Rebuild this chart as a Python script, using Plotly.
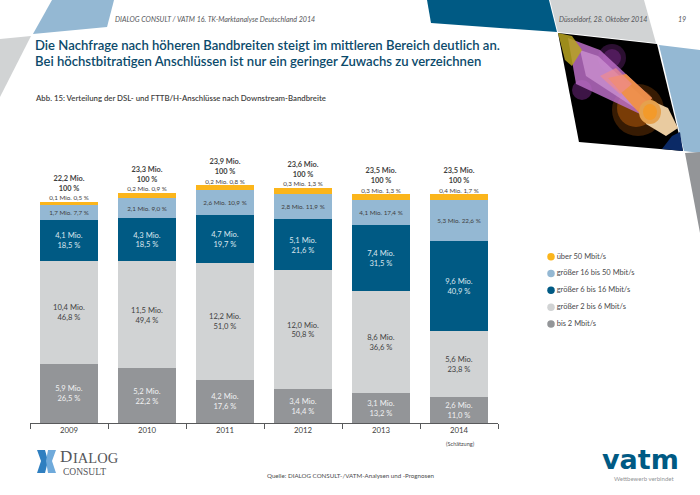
import plotly.graph_objects as go

years = ["2009", "2010", "2011", "2012", "2013", "2014"]

# heights as drawn in the picture (Mio.), they differ a bit from the printed labels
bis2 = [5.94, 5.47, 4.34, 3.44, 3.04, 2.57]
gr2bis6 = [10.3, 10.73, 11.66, 11.83, 10.13, 6.63]
gr6bis16 = [4.06, 4.3, 4.84, 5.13, 6.6, 9.0]
gr16bis50 = [1.54, 2.0, 2.46, 2.5, 2.5, 4.07]
ueber50 = [0.26, 0.5, 0.47, 0.6, 0.6, 0.6]

bis2_text = ["5,9 Mio.<br>26,5 %", "5,2 Mio.<br>22,2 %", "4,2 Mio.<br>17,6 %", "3,4 Mio.<br>14,4 %", "3,1 Mio.<br>13,2 %", "2,6 Mio.<br>11,0 %"]
gr2bis6_text = ["10,4 Mio.<br>46,8 %", "11,5 Mio.<br>49,4 %", "12,2 Mio.<br>51,0 %", "12,0 Mio.<br>50,8 %", "8,6 Mio.<br>36,6 %", "5,6 Mio.<br>23,8 %"]
gr6bis16_text = ["4,1 Mio.<br>18,5 %", "4,3 Mio.<br>18,5 %", "4,7 Mio.<br>19,7 %", "5,1 Mio.<br>21,6 %", "7,4 Mio.<br>31,5 %", "9,6 Mio.<br>40,9 %"]
gr16bis50_text = ["1,7 Mio. 7,7 %", "2,1 Mio. 9,0 %", "2,6 Mio. 10,9 %", "2,8 Mio. 11,9 %", "4,1 Mio. 17,4 %", "5,3 Mio. 22,6 %"]
ueber50_text = ["0,1 Mio. 0,5 %", "0,2 Mio. 0,9 %", "0,2 Mio. 0,8 %", "0,3 Mio. 1,3 %", "0,3 Mio. 1,3 %", "0,4 Mio. 1,7 %"]
totals_text = ["22,2 Mio.", "23,3 Mio.", "23,9 Mio.", "23,6 Mio.", "23,5 Mio.", "23,5 Mio."]

legend_names = ["über 50 Mbit/s", "größer 16 bis 50 Mbit/s", "größer 6 bis 16 Mbit/s", "größer 2 bis 6 Mbit/s", "bis 2 Mbit/s"]
legend_colors = ["#FBB51B", "#94B8D3", "#005A84", "#D1D3D4", "#939598"]

W, H = 700, 495
FONT = "Lato"
GREY_TEXT = "#4A4A4C"
NAVY = "#0B4A6B"


def px(x, y):
    return x / W, 1 - y / H


def poly(points, color, opacity=1):
    parts = []
    for i, (x, y) in enumerate(points):
        a, b = px(x, y)
        parts.append(("M" if i == 0 else "L") + f"{a:.4f},{b:.4f}")
    return dict(type="path", xref="paper", yref="paper", path=" ".join(parts) + " Z",
                fillcolor=color, opacity=opacity, line_width=0, layer="below")


def circle(cx, cy, rx, ry, color, opacity=1):
    x0, y0 = px(cx - rx, cy - ry)
    x1, y1 = px(cx + rx, cy + ry)
    return dict(type="circle", xref="paper", yref="paper", x0=x0, x1=x1, y0=y0, y1=y1,
                fillcolor=color, opacity=opacity, line_width=0, layer="below")


def label(text, x, y, size, color=GREY_TEXT, family=FONT, anchor="left", weight=None):
    a, b = px(x, y)
    return dict(text=text, x=a, y=b, xref="paper", yref="paper", xanchor=anchor, yanchor="middle",
                showarrow=False, align="left", borderpad=0,
                font=dict(size=size, color=color, family=family, weight=weight))


fig = go.Figure()

series = [
    (bis2, bis2_text, "#939598", "#F1F1F2", 7.6, "bis 2 Mbit/s"),
    (gr2bis6, gr2bis6_text, "#D1D3D4", "#3F3F41", 7.6, "größer 2 bis 6 Mbit/s"),
    (gr6bis16, gr6bis16_text, "#005A84", "#DCE6EE", 7.6, "größer 6 bis 16 Mbit/s"),
    (gr16bis50, gr16bis50_text, "#94B8D3", "#3F3F41", 6.3, "größer 16 bis 50 Mbit/s"),
    (ueber50, None, "#FBB51B", "#3F3F41", 6.3, "über 50 Mbit/s"),
]
for values, texts, color, text_color, size, name in series:
    fig.add_trace(go.Bar(x=years, y=values, name=name, marker_color=color, marker_line_width=0,
                         text=texts, textposition="inside" if texts else "none",
                         insidetextanchor="middle", textangle=0, constraintext="none",
                         insidetextfont=dict(size=size, color=text_color, family=FONT),
                         showlegend=False))

# totals and the yellow share sit above each stack
tops = [sum(v) for v in zip(bis2, gr2bis6, gr6bis16, gr16bis50, ueber50)]
top_text = [f"<b>{t}</b><br><b>100 %</b><br>&nbsp;" for t in totals_text]
fig.add_trace(go.Scatter(x=years, y=tops, mode="text", text=ueber50_text, textposition="top center",
                         textfont=dict(size=6.3, color="#3F3F41", family=FONT), showlegend=False))
fig.add_trace(go.Scatter(x=years, y=tops, mode="text", text=top_text, textposition="top center",
                         textfont=dict(size=7.4, color="#3F3F41", family=FONT), showlegend=False))

# legend drawn on its own small axes, row spacing is tighter than the native legend allows
fig.add_trace(go.Scatter(x=[0] * 5, y=legend_names, mode="markers+text", text=legend_names,
                         textposition="middle right", xaxis="x2", yaxis="y2",
                         marker=dict(size=7.5, color=legend_colors),
                         textfont=dict(size=7.5, color=GREY_TEXT, family=FONT), showlegend=False))

shapes = [
    poly([(52, 0), (114, 0), (107, 27), (33, 34)], "#94B8D3"),
    poly([(31, 36), (0, 39), (0, 97)], "#D1D3D4"),
    poly([(427, 0), (549, 0), (557, 32), (431, 23)], "#005A84"),
    poly([(550, 0), (644, 0), (656, 43), (558, 32)], "#D1D3D4"),
    poly([(659, 45), (700, 50), (700, 153), (684, 151)], "#94B8D3"),
    poly([(685, 153), (700, 152), (700, 233)], "#939598"),
    # fibre picture
    poly([(558, 33), (657, 44), (683, 151), (579, 142)], "#000000"),
    circle(612, 58, 14, 14, "#7A2A8C", 0.35),
    circle(612, 58, 9, 9, "#8A2C9B", 0.4),
    circle(582, 90, 10, 10, "#7A2A8C", 0.5),
    circle(638, 110, 26, 26, "#8A4308", 0.4),
    circle(636, 108, 19, 19, "#C9660D", 0.45),
    poly([(568, 38), (600, 50), (652, 98), (640, 114), (576, 84)], "#B86CC4", 0.85),
    poly([(580, 50), (598, 56), (648, 102), (638, 110), (586, 76)], "#D9A0DC", 0.6),
    poly([(608, 78), (626, 74), (652, 98), (640, 114)], "#F2913F", 0.9),
    poly([(600, 76), (616, 68), (632, 84), (620, 94)], "#EE8A90", 0.7),
    poly([(558, 33), (572, 36), (582, 50), (572, 66), (565, 60)], "#B8A520", 0.85),
    poly([(650, 100), (668, 108), (678, 128), (666, 136), (646, 124)], "#E9CBA0"),
    circle(650, 112, 11, 12, "#E5A14E"),
    circle(650, 112, 7, 8, "#F39A2A"),
    poly([(672, 136), (680, 132), (683, 151), (662, 149)], "#0B2A66"),
    # dialog logo
    poly([(37, 450), (45, 450), (48, 461), (45, 473), (37, 473), (41, 461)], "#2F7FC0"),
    poly([(56, 450), (48, 450), (46, 461), (48, 473), (56, 473), (52, 461)], "#6FAADB"),
]

annotations = [
    label("<i>DIALOG CONSULT / VATM 16. TK-Marktanalyse Deutschland 2014</i>", 114, 19, 7.1, "#55565A"),
    label("<i>Düsseldorf, 28. Oktober 2014</i>", 558, 19, 7.1, "#55565A"),
    label("<i>19</i>", 677, 19, 7.1, "#55565A"),
    label("Die Nachfrage nach höheren Bandbreiten steigt im mittleren Bereich deutlich an.", 34, 45, 13.1, NAVY, FONT, weight=600),
    label("Bei höchstbitratigen Anschlüssen ist nur ein geringer Zuwachs zu verzeichnen", 34, 61, 13.1, NAVY, FONT, weight=600),
    label("Abb. 15: Verteilung der DSL- und FTTB/H-Anschlüsse nach Downstream-Bandbreite", 34, 98, 7.8, "#3F3F41", FONT, weight=600),
    label("(Schätzung)", 460, 443, 5.6, GREY_TEXT, anchor="center"),
    label("Quelle: DIALOG CONSULT-/VATM-Analysen und -Prognosen", 266, 475, 6.2, "#4A4A4C"),
    label("D", 59, 456.5, 17, "#55565A", "Liberation Serif"),
    label("IALOG", 72, 457.5, 14.5, "#55565A", "Liberation Serif"),
    label("CONSULT", 62, 472, 9.5, "#55565A", "Liberation Serif"),
    label("vatm", 640, 459, 27, "#005A84", "DejaVu Sans", anchor="center", weight=700),
    label("Wettbewerb verbindet", 644, 478, 6, "#939598", anchor="center"),
]

fig.update_layout(
    width=W, height=H, margin=dict(l=0, r=0, t=0, b=0),
    paper_bgcolor="white", plot_bgcolor="white",
    barmode="stack", bargap=0.25, showlegend=False,
    font=dict(family=FONT),
    shapes=shapes, annotations=annotations,
    xaxis=dict(domain=[30 / W, 498 / W], type="category", range=[-0.5, 5.5], tickson="boundaries",
               ticks="outside", ticklen=5, tickcolor="#58595B", tickwidth=0.8,
               showline=True, linecolor="#58595B", linewidth=1, showgrid=False,
               tickfont=dict(size=7.8, color="#3F3F41", family=FONT)),
    yaxis=dict(domain=[1 - 423 / H, 1 - 140 / H], range=[0, 28.3], visible=False),
    xaxis2=dict(domain=[540 / W, 1], range=[-11, 149], visible=False, anchor="y2"),
    yaxis2=dict(domain=[1 - 332.35 / H, 1 - 248.35 / H], type="category", range=[4.5, -0.5],
                visible=False, anchor="x2"),
)

# the page's default body margin would push the chart 8px off
fig.write_html("out.html", config={"displayModeBar": False}, post_script="document.body.style.margin='0';")
